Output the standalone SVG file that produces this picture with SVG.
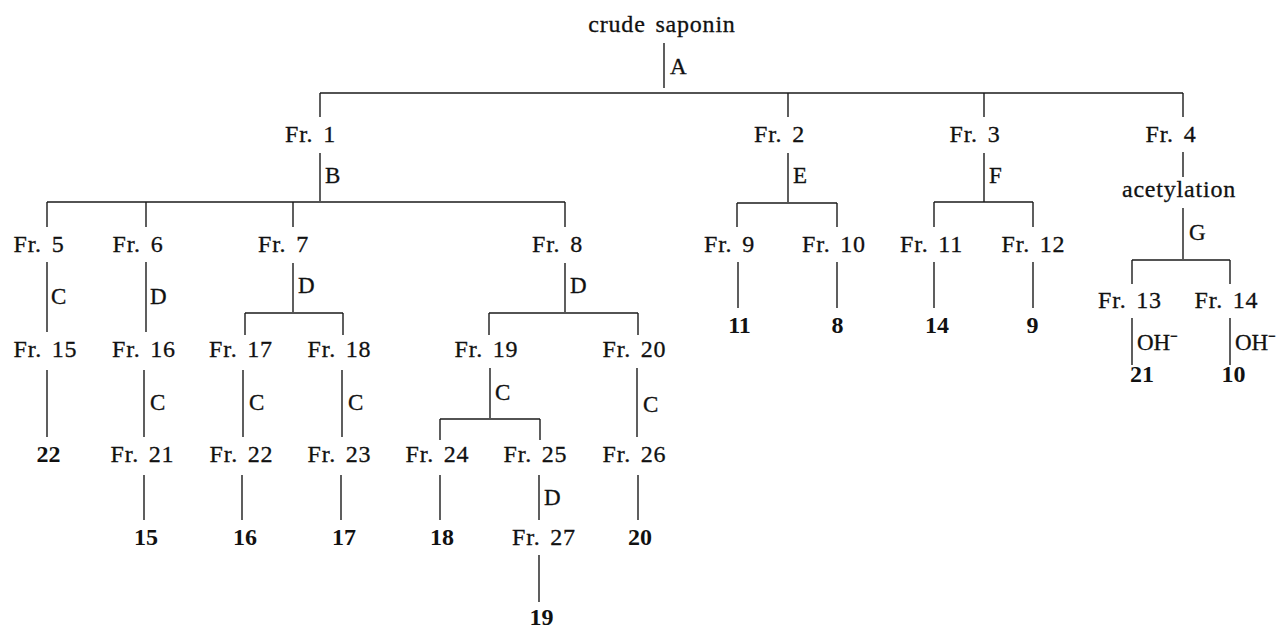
<svg xmlns="http://www.w3.org/2000/svg" width="1283" height="628" viewBox="0 0 1283 628">
<style>
.n{font-family:"Liberation Serif","Times New Roman",serif;font-size:24px;fill:#111;stroke:#111;stroke-width:0.3px;text-anchor:middle;letter-spacing:0.8px;word-spacing:3px}
.b{font-family:"Liberation Serif","Times New Roman",serif;font-size:24px;font-weight:bold;fill:#111;text-anchor:middle}
.e{font-family:"Liberation Serif","Times New Roman",serif;font-size:23px;fill:#111;stroke:#111;stroke-width:0.3px}
#connectors line{stroke:#1a1a1a;stroke-width:1.4}
</style>
<rect width="1283" height="628" fill="#fff"/>
<g id="connectors">
<line x1="664" y1="43" x2="664" y2="88"/>
<line x1="320" y1="93" x2="1183" y2="93"/>
<line x1="320" y1="93" x2="320" y2="117"/>
<line x1="788" y1="93" x2="788" y2="117"/>
<line x1="984" y1="93" x2="984" y2="117"/>
<line x1="1183" y1="93" x2="1183" y2="117"/>
<line x1="320" y1="153" x2="320" y2="201"/>
<line x1="47" y1="202" x2="565" y2="202"/>
<line x1="47" y1="202" x2="47" y2="227"/>
<line x1="146" y1="202" x2="146" y2="227"/>
<line x1="293" y1="202" x2="293" y2="227"/>
<line x1="565" y1="202" x2="565" y2="227"/>
<line x1="788" y1="153" x2="788" y2="202"/>
<line x1="737" y1="203" x2="837" y2="203"/>
<line x1="737" y1="203" x2="737" y2="227"/>
<line x1="837" y1="203" x2="837" y2="227"/>
<line x1="984" y1="153" x2="984" y2="202"/>
<line x1="934" y1="202" x2="1033" y2="202"/>
<line x1="934" y1="202" x2="934" y2="227"/>
<line x1="1033" y1="202" x2="1033" y2="227"/>
<line x1="1183" y1="152" x2="1183" y2="177"/>
<line x1="1183" y1="208" x2="1183" y2="259"/>
<line x1="1132" y1="260" x2="1230" y2="260"/>
<line x1="1132" y1="260" x2="1132" y2="284"/>
<line x1="1230" y1="260" x2="1230" y2="284"/>
<line x1="47" y1="262" x2="47" y2="332"/>
<line x1="146" y1="262" x2="146" y2="332"/>
<line x1="293" y1="263" x2="293" y2="312"/>
<line x1="245" y1="313" x2="343" y2="313"/>
<line x1="245" y1="313" x2="245" y2="335"/>
<line x1="343" y1="313" x2="343" y2="335"/>
<line x1="565" y1="263" x2="565" y2="312"/>
<line x1="489" y1="313" x2="638" y2="313"/>
<line x1="489" y1="313" x2="489" y2="335"/>
<line x1="638" y1="313" x2="638" y2="335"/>
<line x1="738" y1="262" x2="738" y2="308"/>
<line x1="837" y1="262" x2="837" y2="308"/>
<line x1="934" y1="262" x2="934" y2="308"/>
<line x1="1033" y1="262" x2="1033" y2="308"/>
<line x1="1132" y1="318" x2="1132" y2="365"/>
<line x1="1230" y1="318" x2="1230" y2="365"/>
<line x1="47" y1="370" x2="47" y2="437"/>
<line x1="144" y1="370" x2="144" y2="437"/>
<line x1="243" y1="370" x2="243" y2="437"/>
<line x1="342" y1="370" x2="342" y2="437"/>
<line x1="490" y1="368" x2="490" y2="418"/>
<line x1="440" y1="419" x2="540" y2="419"/>
<line x1="440" y1="419" x2="440" y2="440"/>
<line x1="540" y1="419" x2="540" y2="440"/>
<line x1="637" y1="368" x2="637" y2="437"/>
<line x1="144" y1="475" x2="144" y2="520"/>
<line x1="242" y1="475" x2="242" y2="520"/>
<line x1="341" y1="475" x2="341" y2="520"/>
<line x1="440" y1="475" x2="440" y2="520"/>
<line x1="539" y1="475" x2="539" y2="520"/>
<line x1="638" y1="475" x2="638" y2="520"/>
<line x1="539" y1="555" x2="539" y2="602"/>
</g>
<g id="edge-labels">
<text class="e" x="670" y="74">A</text>
<text class="e" x="325" y="183">B</text>
<text class="e" x="793" y="183">E</text>
<text class="e" x="989" y="183">F</text>
<text class="e" x="1189" y="240">G</text>
<text class="e" x="51" y="304">C</text>
<text class="e" x="150" y="304">D</text>
<text class="e" x="298" y="293">D</text>
<text class="e" x="570" y="293">D</text>
<text class="e" x="1137" y="350">OH⁻</text>
<text class="e" x="1235" y="350">OH⁻</text>
<text class="e" x="150" y="410">C</text>
<text class="e" x="249" y="410">C</text>
<text class="e" x="348" y="410">C</text>
<text class="e" x="495" y="400">C</text>
<text class="e" x="643" y="412">C</text>
<text class="e" x="544" y="505">D</text>
</g>
<g id="crude-saponin"><text class="n" x="662" y="32">crude saponin</text></g>
<g id="fr1"><text class="n" x="310.5" y="142">Fr. 1</text></g>
<g id="fr2"><text class="n" x="779.5" y="142">Fr. 2</text></g>
<g id="fr3"><text class="n" x="975" y="142">Fr. 3</text></g>
<g id="fr4"><text class="n" x="1171" y="142">Fr. 4</text></g>
<g id="acetylation"><text class="n" x="1179" y="197">acetylation</text></g>
<g id="fr5"><text class="n" x="39" y="252">Fr. 5</text></g>
<g id="fr6"><text class="n" x="138" y="252">Fr. 6</text></g>
<g id="fr7"><text class="n" x="283.5" y="252">Fr. 7</text></g>
<g id="fr8"><text class="n" x="557.5" y="252">Fr. 8</text></g>
<g id="fr9"><text class="n" x="729.5" y="252">Fr. 9</text></g>
<g id="fr10"><text class="n" x="834" y="252">Fr. 10</text></g>
<g id="fr11"><text class="n" x="931.5" y="252">Fr. 11</text></g>
<g id="fr12"><text class="n" x="1033.5" y="252">Fr. 12</text></g>
<g id="c11"><text class="b" x="739.5" y="333">11</text></g>
<g id="c8"><text class="b" x="837.5" y="333">8</text></g>
<g id="c14"><text class="b" x="937" y="333">14</text></g>
<g id="c9"><text class="b" x="1032.5" y="333">9</text></g>
<g id="fr13"><text class="n" x="1130" y="308">Fr. 13</text></g>
<g id="fr14"><text class="n" x="1226.5" y="308">Fr. 14</text></g>
<g id="c21"><text class="b" x="1142" y="382">21</text></g>
<g id="c10"><text class="b" x="1233.5" y="382">10</text></g>
<g id="fr15"><text class="n" x="45.5" y="357">Fr. 15</text></g>
<g id="fr16"><text class="n" x="144" y="357">Fr. 16</text></g>
<g id="fr17"><text class="n" x="241" y="357">Fr. 17</text></g>
<g id="fr18"><text class="n" x="339.5" y="357">Fr. 18</text></g>
<g id="fr19"><text class="n" x="486.5" y="357">Fr. 19</text></g>
<g id="fr20"><text class="n" x="634.5" y="357">Fr. 20</text></g>
<g id="c22"><text class="b" x="48.5" y="462">22</text></g>
<g id="fr21"><text class="n" x="142.5" y="462">Fr. 21</text></g>
<g id="fr22"><text class="n" x="241.5" y="462">Fr. 22</text></g>
<g id="fr23"><text class="n" x="339.5" y="462">Fr. 23</text></g>
<g id="fr24"><text class="n" x="437.5" y="462">Fr. 24</text></g>
<g id="fr25"><text class="n" x="535.5" y="462">Fr. 25</text></g>
<g id="fr26"><text class="n" x="634.5" y="462">Fr. 26</text></g>
<g id="c15"><text class="b" x="146" y="545">15</text></g>
<g id="c16"><text class="b" x="245" y="545">16</text></g>
<g id="c17"><text class="b" x="344" y="545">17</text></g>
<g id="c18"><text class="b" x="442" y="545">18</text></g>
<g id="fr27"><text class="n" x="544" y="545">Fr. 27</text></g>
<g id="c20"><text class="b" x="640" y="545">20</text></g>
<g id="c19"><text class="b" x="541.5" y="625">19</text></g>
</svg>
